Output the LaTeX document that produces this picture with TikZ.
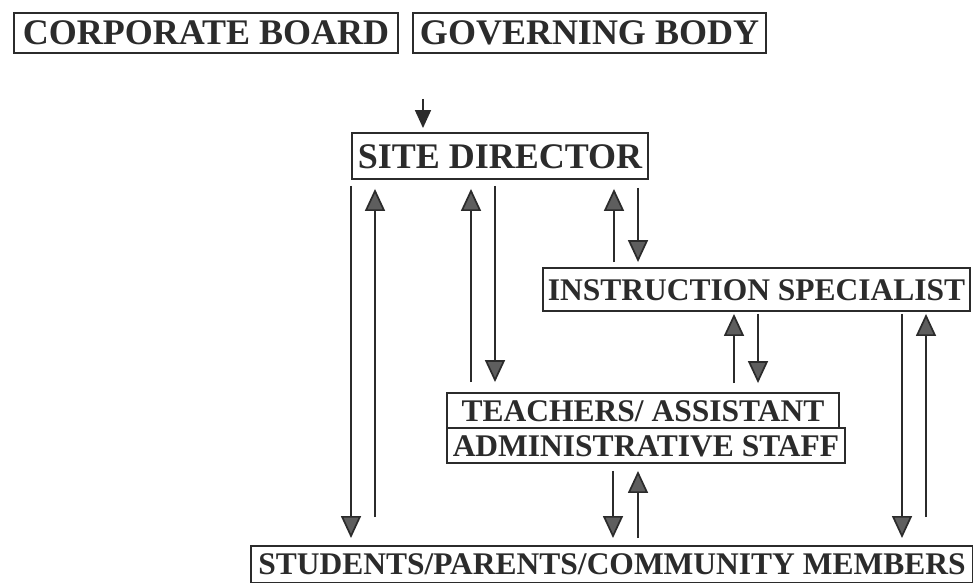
\documentclass[tikz,border=0pt]{standalone}
\usepackage{fontspec}
\setmainfont{Liberation Serif}
\usetikzlibrary{arrows.meta}

\definecolor{ink}{HTML}{2B2B2B}
\definecolor{tipgray}{HTML}{5E5E5E}

\begin{document}
\begin{tikzpicture}[
    x=1pt, y=-1pt,
    box/.style      ={draw=ink, line width=1.9pt, text=ink, inner sep=0pt,
                      font=\bfseries\fontsize{36}{40}\selectfont,
                      text height=24pt, text depth=0pt},
    smallbox/.style ={box, font=\bfseries\fontsize{31.5}{36}\selectfont,
                      text height=21pt},
    flow/.style     ={-{Triangle[width=20pt, length=22pt, fill=tipgray]},
                      draw=ink, line width=1.7pt},
    topflow/.style  ={-{Triangle[width=16pt, length=18pt, fill=ink]},
                      draw=ink, line width=1.7pt}
]
\fill[white] (0,0) rectangle (973,583);
\useasboundingbox (0,0) rectangle (973,583);

% Top row
\node[box, minimum width=384pt, minimum height=40pt] (cb) at (206,33) {CORPORATE BOARD};
\node[box, minimum width=353pt, minimum height=40pt] (gb) at (589.5,33) {GOVERNING BODY};

% Site director and the layers below it
\node[box, minimum width=296pt, minimum height=46pt] (sd) at (500,156) {SITE DIRECTOR};
\node[smallbox, minimum width=427pt, minimum height=43pt] (is) at (756.5,289.5) {INSTRUCTION SPECIALIST};
\node[smallbox, minimum width=392pt, minimum height=35pt] (ta) at (643,410.5) {TEACHERS/ ASSISTANT};
\node[smallbox, minimum width=398pt, minimum height=35pt] (as) at (646,445.5) {ADMINISTRATIVE STAFF};
\node[smallbox, anchor=north west, minimum width=722pt, minimum height=36.5pt] (stu) at (250,545)
    {STUDENTS/PARENTS/COMMUNITY MEMBERS};

% Columns of the vertical connectors
\coordinate (c0)  at (423,0);
\coordinate (c1)  at (351,0);
\coordinate (c2)  at (375,0);
\coordinate (c3)  at (471,0);
\coordinate (c4)  at (495,0);
\coordinate (c5)  at (614,0);
\coordinate (c6)  at (638,0);
\coordinate (c7)  at (734,0);
\coordinate (c8)  at (758,0);
\coordinate (c9)  at (613,0);
\coordinate (c10) at (638,0);
\coordinate (c11) at (902,0);
\coordinate (c12) at (926,0);

% --- Arrows ---
\draw[topflow, shorten <=45pt, shorten >=4pt] (gb.south -| c0) -- (sd.north -| c0);

% Site director <-> students
\draw[flow, shorten <=6pt, shorten >=7pt]  (sd.south -| c1) -- (stu.north -| c1);
\draw[flow, shorten <=28pt, shorten >=9pt] (stu.north -| c2) -- (sd.south -| c2);

% Site director <-> teachers
\draw[flow, shorten <=10pt, shorten >=9pt] (ta.north -| c3) -- (sd.south -| c3);
\draw[flow, shorten <=6pt, shorten >=10pt] (sd.south -| c4) -- (ta.north -| c4);

% Site director <-> instruction specialist
\draw[flow, shorten <=5pt, shorten >=9pt] (is.north -| c5) -- (sd.south -| c5);
\draw[flow, shorten <=8pt, shorten >=5pt] (sd.south -| c6) -- (is.north -| c6);

% Instruction specialist <-> teachers
\draw[flow, shorten <=9pt, shorten >=2pt] (ta.north -| c7) -- (is.south -| c7);
\draw[flow, shorten <=2pt, shorten >=9pt] (is.south -| c8) -- (ta.north -| c8);

% Staff <-> students
\draw[flow, shorten <=7pt, shorten >=7pt] (as.south -| c9) -- (stu.north -| c9);
\draw[flow, shorten <=7pt, shorten >=7pt] (stu.north -| c10) -- (as.south -| c10);

% Instruction specialist <-> students
\draw[flow, shorten <=2pt, shorten >=7pt]  (is.south -| c11) -- (stu.north -| c11);
\draw[flow, shorten <=28pt, shorten >=2pt] (stu.north -| c12) -- (is.south -| c12);

\end{tikzpicture}
\end{document}
